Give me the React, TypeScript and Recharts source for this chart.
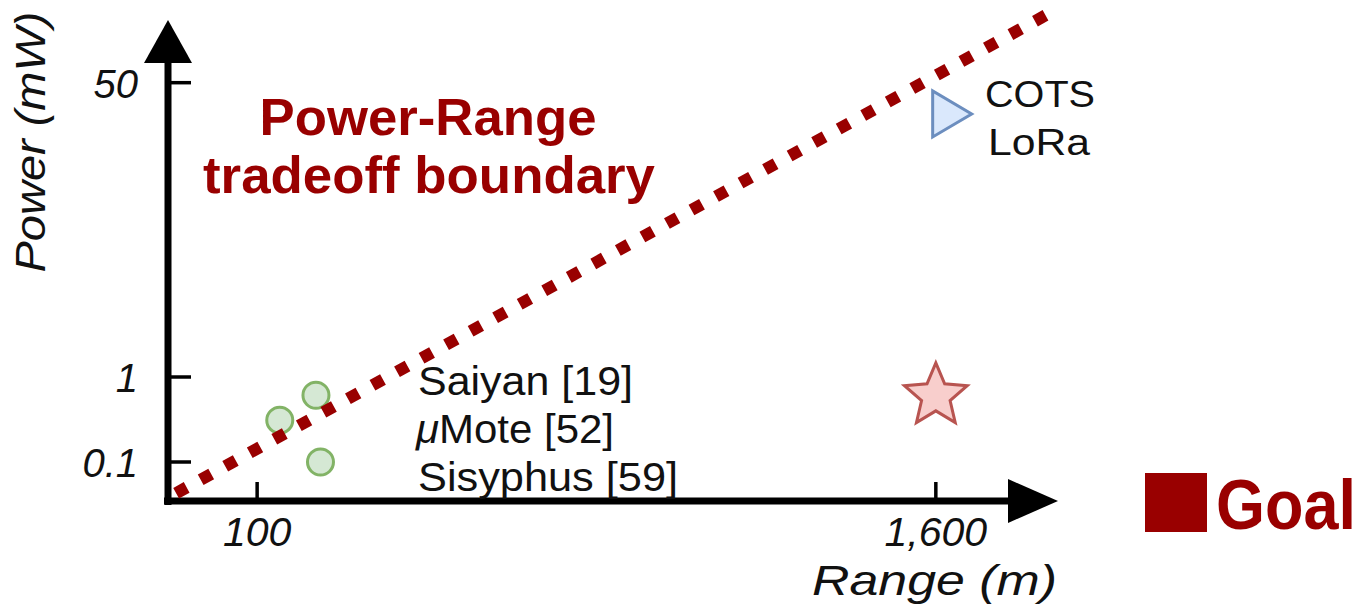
import React from 'react';
import { ScatterChart, Scatter, XAxis, YAxis, Customized } from 'recharts';

// ---------- data ----------
// Prior low-power systems (Saiyan [19], μMote [52], Sisyphus [59])
const priorRange = [150, 230, 240]; // m
const priorPower = [0.31, 0.61, 0.1]; // mW
// COTS LoRa
const cotsRange = [1635];
const cotsPower = [33];
// Goal
const goalRange = [1600];
const goalPower = [0.6];
// Power-Range tradeoff boundary (end points)
const boundaryRange = [-79, 1856];
const boundaryPower = [0.043, 128];
// Ticks
const xTicks = [100, 1600];
const xTickLabels = ['100', '1,600'];
const yTicks = [0.1, 1, 50];
const yTickLabels = ['0.1', '1', '50'];
const priorLabels = ['Saiyan [19]', 'Mote [52]', 'Sisyphus [59]'];

// ---------- schematic power axis (log, upper part stretched) ----------
const UPPER_STRETCH = 2.038;
const toPos = (p: number) => {
  const l = Math.log10(p);
  return l > 0 ? l * UPPER_STRETCH : l;
};

// ---------- layout ----------
const W = 1365;
const H = 606;
const PLOT_LEFT = 168;
const PLOT_RIGHT = 1058;
const PLOT_TOP = 8;
const PLOT_BOTTOM = 501;
const Y_AXIS_W = 60;
const X_AXIS_H = 60;
const PX_PER_UNIT = 85;
const Y_ONE_PX = 377;
const Y_MIN = -(PLOT_BOTTOM - Y_ONE_PX) / PX_PER_UNIT;
const Y_MAX = (Y_ONE_PX - PLOT_TOP) / PX_PER_UNIT;
const X_MIN = -97;
const X_MAX = 1870;

const DARK_RED = '#990000';
const FONT = '"Liberation Sans", Arial, Helvetica, sans-serif';

const mk = (xs: number[], ys: number[]) => xs.map((x, i) => ({ x, y: toPos(ys[i]) }));
const priorData = mk(priorRange, priorPower);
const cotsData = mk(cotsRange, cotsPower);
const goalData = mk(goalRange, goalPower);
const boundaryData = mk(boundaryRange, boundaryPower);

const CircleShape = (props: any) => (
  <circle cx={props.cx} cy={props.cy} r={13} fill="#d5e8d4" stroke="#82b366" strokeWidth={3} />
);

const TriangleShape = (props: any) => {
  const { cx, cy } = props;
  const pts = `${cx - 19},${cy - 23} ${cx - 19},${cy + 23} ${cx + 20},${cy}`;
  return <polygon points={pts} fill="#dae8fc" stroke="#6c8ebf" strokeWidth={3} strokeLinejoin="miter" />;
};

const StarShape = (props: any) => {
  const { cx, cy } = props;
  const R = 33;
  const r = 15;
  const pts: string[] = [];
  for (let i = 0; i < 10; i++) {
    const rad = i % 2 === 0 ? R : r;
    const a = -Math.PI / 2 + (i * Math.PI) / 5;
    pts.push(`${cx + rad * Math.cos(a)},${cy + rad * Math.sin(a)}`);
  }
  return <polygon points={pts.join(' ')} fill="#f8cecc" stroke="#b85450" strokeWidth={3} />;
};

const EmptyShape = () => <g />;

const YTick = (props: any) => {
  const { y, index } = props;
  return (
    <g>
      <line x1={PLOT_LEFT + 3} x2={PLOT_LEFT + 23} y1={y} y2={y} stroke="#000" strokeWidth={3.5} />
      <text
        x={PLOT_LEFT - 30}
        y={y + 15}
        textAnchor="end"
        fontFamily={FONT}
        fontStyle="italic"
        fontSize={40}
        fill="#111"
      >
        {yTickLabels[index]}
      </text>
    </g>
  );
};

const XTick = (props: any) => {
  const { x, index } = props;
  return (
    <g>
      <line x1={x} x2={x} y1={PLOT_BOTTOM - 19} y2={PLOT_BOTTOM - 2} stroke="#000" strokeWidth={3.5} />
      <text
        x={x}
        y={PLOT_BOTTOM + 45}
        textAnchor="middle"
        fontFamily={FONT}
        fontStyle="italic"
        fontSize={41}
        fill="#111"
      >
        {xTickLabels[index]}
      </text>
    </g>
  );
};

const Frame = () => (
  <g>
    {/* y axis */}
    <line x1={PLOT_LEFT} x2={PLOT_LEFT} y1={PLOT_BOTTOM + 4} y2={62} stroke="#000" strokeWidth={7} />
    <polygon points={`${PLOT_LEFT - 24},63 ${PLOT_LEFT + 24},63 ${PLOT_LEFT},20`} fill="#000" />
    {/* x axis */}
    <line x1={PLOT_LEFT - 4} x2={1010} y1={PLOT_BOTTOM} y2={PLOT_BOTTOM} stroke="#000" strokeWidth={7} />
    <polygon points={`1008,${PLOT_BOTTOM - 22} 1008,${PLOT_BOTTOM + 22} 1058,${PLOT_BOTTOM}`} fill="#000" />
  </g>
);

const Texts = () => (
  <g fontFamily={FONT}>
    {/* axis titles */}
    <text
      transform="translate(45,142) rotate(-90)"
      textAnchor="middle"
      fontStyle="italic"
      fontSize={43}
      fill="#111"
      textLength={261}
      lengthAdjust="spacingAndGlyphs"
    >
      Power (mW)
    </text>
    <text x={812} y={595} fontStyle="italic" fontSize={43} fill="#111" textLength={245} lengthAdjust="spacingAndGlyphs">
      Range (m)
    </text>
    {/* boundary title */}
    <text x={428} y={135} textAnchor="middle" fontWeight="bold" fontSize={52} fill={DARK_RED} textLength={337} lengthAdjust="spacingAndGlyphs">
      Power-Range
    </text>
    <text x={429} y={193} textAnchor="middle" fontWeight="bold" fontSize={52} fill={DARK_RED} textLength={452} lengthAdjust="spacingAndGlyphs">
      tradeoff boundary
    </text>
    {/* COTS LoRa */}
    <text x={985} y={107} fontSize={36} fill="#111" textLength={110} lengthAdjust="spacingAndGlyphs">
      COTS
    </text>
    <text x={988} y={155} fontSize={36} fill="#111" textLength={102} lengthAdjust="spacingAndGlyphs">
      LoRa
    </text>
    {/* prior work */}
    <text x={418} y={395} fontSize={40} fill="#111" textLength={215} lengthAdjust="spacingAndGlyphs">
      {priorLabels[0]}
    </text>
    <text x={416} y={443} fontSize={40} fill="#111" textLength={198} lengthAdjust="spacingAndGlyphs">
      <tspan fontStyle="italic">μ</tspan>
      {priorLabels[1]}
    </text>
    <text x={418} y={491} fontSize={40} fill="#111" textLength={260} lengthAdjust="spacingAndGlyphs">
      {priorLabels[2]}
    </text>
    {/* goal legend */}
    <rect x={1145} y={473} width={62} height={59} fill={DARK_RED} />
    <text transform="translate(1216,529) scale(1,1.12)" fontWeight="bold" fontSize={63} fill={DARK_RED}>
      Goal
    </text>
  </g>
);

export default function App() {
  return (
    <div style={{ position: 'absolute', left: 0, top: 0, width: W, height: H, background: '#fff' }}>
      <ScatterChart
        width={W}
        height={H}
        margin={{ top: PLOT_TOP, right: W - PLOT_RIGHT, bottom: H - PLOT_BOTTOM - X_AXIS_H, left: PLOT_LEFT - Y_AXIS_W }}
      >
        <XAxis
          type="number"
          dataKey="x"
          domain={[X_MIN, X_MAX]}
          ticks={xTicks}
          interval={0}
          height={X_AXIS_H}
          axisLine={false}
          tickLine={false}
          tickSize={0}
          tickMargin={0}
          tick={<XTick />}
        />
        <YAxis
          type="number"
          dataKey="y"
          domain={[Y_MIN, Y_MAX]}
          ticks={yTicks.map(toPos)}
          interval={0}
          width={Y_AXIS_W}
          axisLine={false}
          tickLine={false}
          tickSize={0}
          tickMargin={0}
          tick={<YTick />}
        />
        <Customized component={Frame} />
        <Scatter data={priorData} shape={CircleShape} isAnimationActive={false} />
        <Scatter data={cotsData} shape={TriangleShape} isAnimationActive={false} />
        <Scatter data={goalData} shape={StarShape} isAnimationActive={false} />
        <Scatter
          data={boundaryData}
          shape={EmptyShape}
          line={{ stroke: DARK_RED, strokeWidth: 12, strokeDasharray: '12 16' }}
          isAnimationActive={false}
        />
        <Customized component={Texts} />
      </ScatterChart>
    </div>
  );
}
